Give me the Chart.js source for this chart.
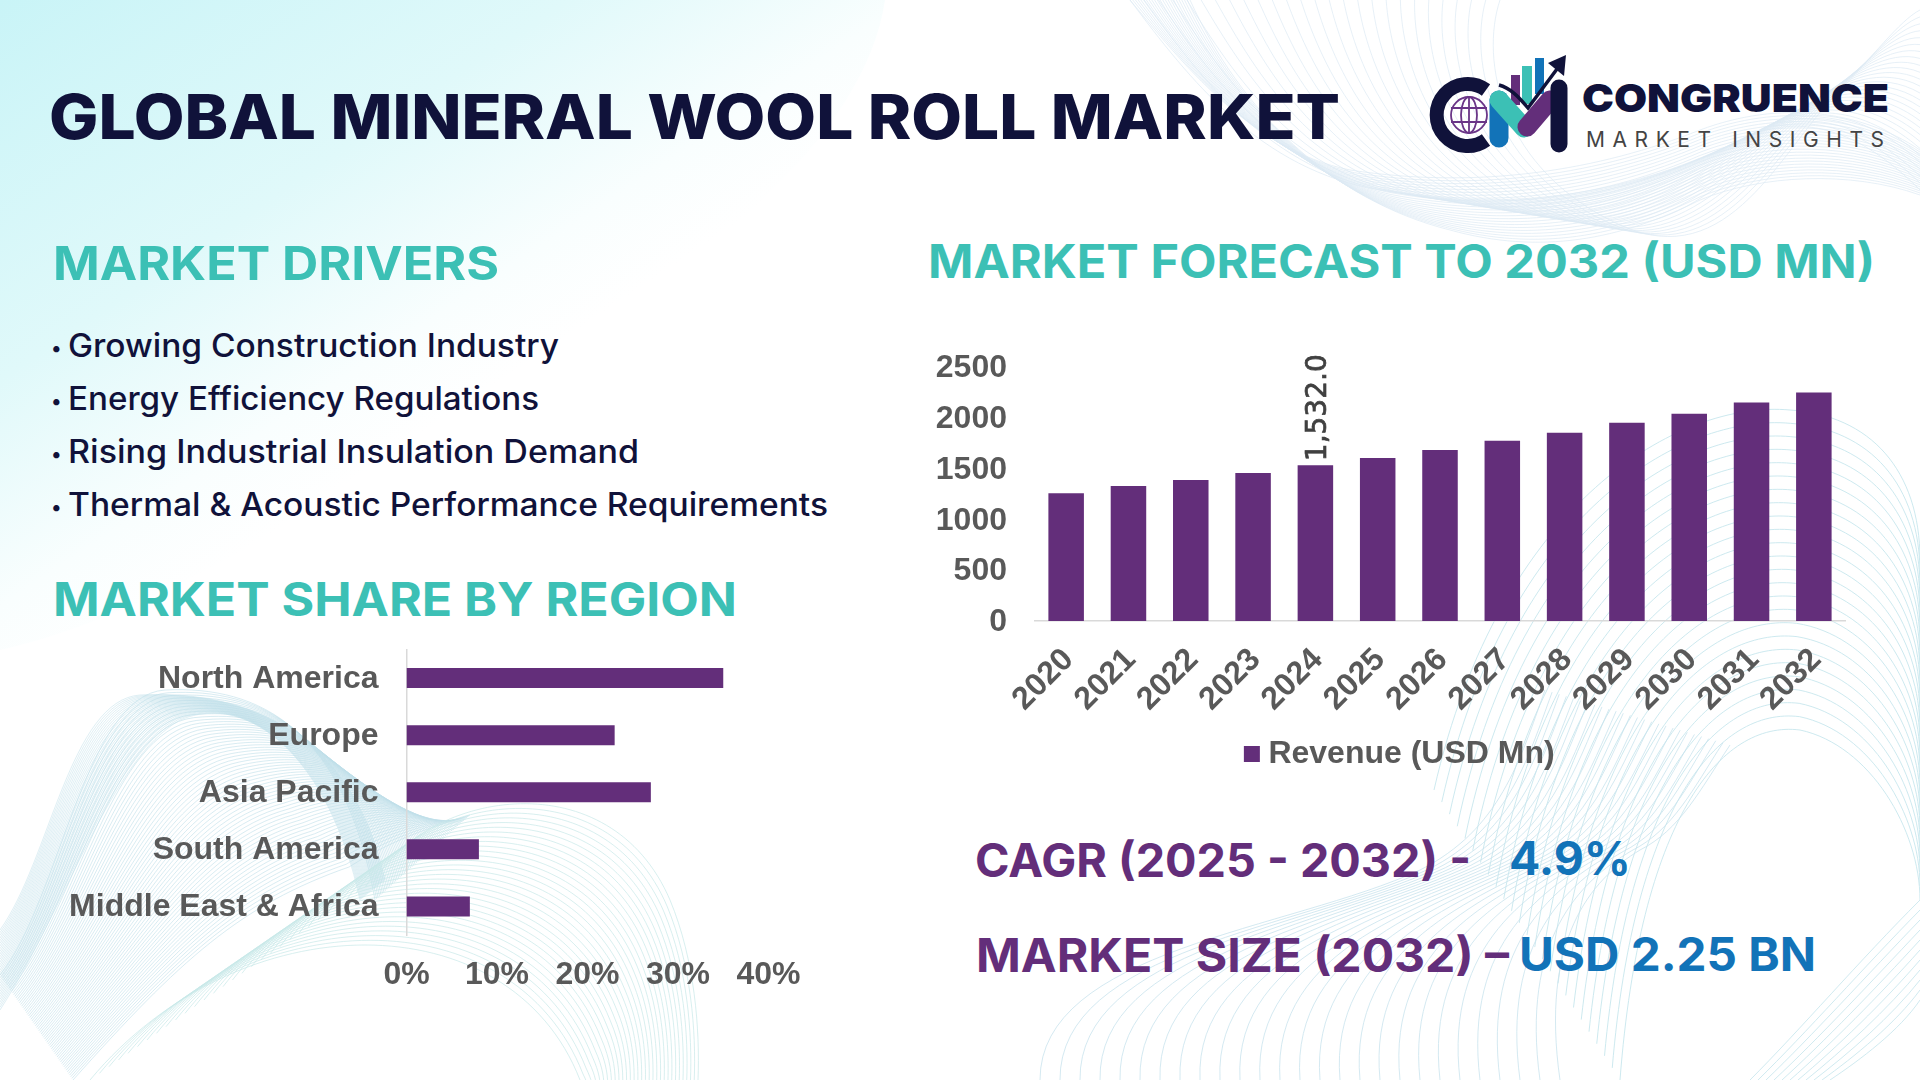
<!DOCTYPE html>
<html>
<head>
<meta charset="utf-8">
<title>Global Mineral Wool Roll Market</title>
<script src="https://cdn.jsdelivr.net/npm/chart.js@4"></script>
<style>
  html, body { margin: 0; padding: 0; background: #fff; }
  #page { position: relative; width: 1920px; height: 1080px; overflow: hidden; }
  #bg { position: absolute; left: 0; top: 0; }
  #bg text { font-family: Inter, sans-serif; }
  canvas { position: absolute; }
  #forecastChart { left: 935px; top: 340px; }
  #regionChart { left: 60px; top: 640px; }
</style>
</head>
<body>
<div id="page">
  <svg id="bg" width="1920" height="1080" viewBox="0 0 1920 1080" xmlns="http://www.w3.org/2000/svg">
    <defs>
      <linearGradient id="corner" gradientUnits="userSpaceOnUse" x1="0" y1="0" x2="500" y2="750">
        <stop offset="0" stop-color="#c9f4f7"/>
        <stop offset="0.35" stop-color="#e0f9fa"/>
        <stop offset="0.56" stop-color="#f9fefe"/>
        <stop offset="0.66" stop-color="#ffffff"/>
      </linearGradient>
    </defs>
    <path d="M0,0 L885,0 C860,170 620,330 330,500 C200,580 90,630 0,650 Z" fill="url(#corner)"/>
    <g id="mesh" fill="none"></g>

    <!-- logo -->
    <g id="logo">
      <path d="M1486,90 A31,31 0 1 0 1486,140" fill="none" stroke="#10123a" stroke-width="14"/>
      <g fill="none" stroke="#6a3587" stroke-width="1.8">
        <circle cx="1469" cy="115" r="18"/>
        <ellipse cx="1469" cy="115" rx="8" ry="18"/>
        <path d="M1451,108 H1487 M1451,122 H1487 M1469,97 V133"/>
      </g>
      <rect x="1511" y="75" width="9" height="30" fill="#632e7a"/>
      <rect x="1522" y="66" width="10" height="38" fill="#3cc0b5"/>
      <rect x="1535" y="58" width="9" height="36" fill="#1273b8"/>
      <path d="M1499,100 V138" stroke="#1273b8" stroke-width="19" stroke-linecap="round"/>
      <path d="M1499,100 L1524,128" stroke="#3cc0b5" stroke-width="19" stroke-linecap="round"/>
      <path d="M1550,100 L1527,127" stroke="#632e7a" stroke-width="19" stroke-linecap="round"/>
      <path d="M1559,88 V144" stroke="#10123a" stroke-width="17" stroke-linecap="round"/>
      <path d="M1499,85 C1510,88 1518,96 1528,108 L1557,69" fill="none" stroke="#10123a" stroke-width="3.5"/>
      <path d="M1566,55 L1548,63 L1564,76 Z" fill="#10123a"/>
    </g>

    <text x="1582" y="112" font-size="39" font-weight="900" fill="#10123a" textLength="307" lengthAdjust="spacingAndGlyphs">CONGRUENCE</text>
    <text x="1586" y="147" font-size="21" font-weight="400" fill="#444444" textLength="298" lengthAdjust="spacing">MARKET INSIGHTS</text>

    <text x="49" y="139" font-size="62" font-weight="800" fill="#10123a" textLength="1291" lengthAdjust="spacingAndGlyphs">GLOBAL MINERAL WOOL ROLL MARKET</text>

    <text x="53" y="280" font-size="46" font-weight="700" fill="#3cc0b5" textLength="446" lengthAdjust="spacingAndGlyphs">MARKET DRIVERS</text>

    <text x="51" y="355" font-size="20" font-weight="500" fill="#10123a">•</text>
    <text x="68" y="357" font-size="32" font-weight="500" fill="#10123a" textLength="491" lengthAdjust="spacingAndGlyphs">Growing Construction Industry</text>
    <text x="51" y="408" font-size="20" font-weight="500" fill="#10123a">•</text>
    <text x="68" y="410" font-size="32" font-weight="500" fill="#10123a" textLength="471" lengthAdjust="spacingAndGlyphs">Energy Efficiency Regulations</text>
    <text x="51" y="461" font-size="20" font-weight="500" fill="#10123a">•</text>
    <text x="68" y="463" font-size="32" font-weight="500" fill="#10123a" textLength="571" lengthAdjust="spacingAndGlyphs">Rising Industrial Insulation Demand</text>
    <text x="51" y="514" font-size="20" font-weight="500" fill="#10123a">•</text>
    <text x="68" y="516" font-size="32" font-weight="500" fill="#10123a" textLength="760" lengthAdjust="spacingAndGlyphs">Thermal &amp; Acoustic Performance Requirements</text>

    <text x="53" y="616" font-size="46" font-weight="700" fill="#3cc0b5" textLength="684" lengthAdjust="spacingAndGlyphs">MARKET SHARE BY REGION</text>
    <text x="928" y="278" font-size="46" font-weight="700" fill="#3cc0b5" textLength="947" lengthAdjust="spacingAndGlyphs">MARKET FORECAST TO 2032 (USD MN)</text>

    <text x="975" y="877" font-size="46" font-weight="700" fill="#632e7a" textLength="496" lengthAdjust="spacingAndGlyphs">CAGR (2025 - 2032) -</text>
    <text x="1509" y="875" font-size="46" font-weight="700" fill="#1273b8" textLength="122" lengthAdjust="spacingAndGlyphs">4.9%</text>
    <text x="976" y="972" font-size="46" font-weight="700" fill="#632e7a" textLength="533" lengthAdjust="spacingAndGlyphs">MARKET SIZE (2032) –</text>
    <text x="1519" y="971" font-size="46" font-weight="700" fill="#1273b8" textLength="297" lengthAdjust="spacingAndGlyphs">USD 2.25 BN</text>
  </svg>

  <canvas id="forecastChart" width="954" height="440"></canvas>
  <canvas id="regionChart" width="760" height="360"></canvas>
</div>

<script>
// chart values
const years = ['2020', '2021', '2022', '2023', '2024', '2025', '2026', '2027', '2028', '2029', '2030', '2031', '2032'];
const revenue = [1257, 1326, 1385, 1454, 1532, 1603, 1682, 1771, 1850, 1949, 2038, 2147, 2246];
const labelledYear = '2024';
const seriesName = 'Revenue (USD Mn)';

const regions = ['North America', 'Europe', 'Asia Pacific', 'South America', 'Middle East & Africa'];
const shares = [35, 23, 27, 8, 7];

const purple = '#632e7a';
const grey = '#595959';
const axisLine = '#d9d9d9';
const tickFont = { family: '"Liberation Sans", Arial, sans-serif', size: 32, weight: 'bold' };

// background wave lines: every family blends one path into another
function blend(a, b, t) {
  return a.map((p, i) => [p[0] + (b[i][0] - p[0]) * t, p[1] + (b[i][1] - p[1]) * t]);
}
function toPath(pts) {
  let d = 'M' + pts[0].join(',');
  for (let i = 1; i < pts.length; i += 3) {
    d += ' C' + pts[i].join(',') + ' ' + pts[i + 1].join(',') + ' ' + pts[i + 2].join(',');
  }
  return d;
}
function family(a, b, n, color, opacity) {
  const svgNS = 'http://www.w3.org/2000/svg';
  const group = document.getElementById('mesh');
  for (let i = 0; i <= n; i++) {
    const line = document.createElementNS(svgNS, 'path');
    line.setAttribute('d', toPath(blend(a, b, i / n)));
    line.setAttribute('stroke', color);
    line.setAttribute('stroke-width', '1');
    line.setAttribute('stroke-opacity', opacity);
    group.appendChild(line);
  }
}

// top right ribbon
family(
  [[1130,0],[1190,80],[1260,170],[1380,190],[1520,215],[1640,190],[1740,140],[1800,110],[1860,130],[1920,190]],
  [[1500,0],[1480,60],[1500,170],[1620,225],[1730,275],[1780,150],[1840,90],[1870,60],[1900,20],[1920,10]],
  26, '#dde9f4', '0.7');
family(
  [[1190,0],[1240,110],[1330,200],[1450,230],[1540,255],[1620,240],[1700,200],[1760,175],[1850,170],[1920,195]],
  [[1130,0],[1180,60],[1250,150],[1350,170],[1480,190],[1600,170],[1700,130],[1780,100],[1860,110],[1920,150]],
  22, '#dde9f4', '0.7');

// bottom left ribbon
family(
  [[0,975],[60,900],[85,695],[165,690],[260,685],[345,730],[375,900]],
  [[73,1080],[180,960],[240,905],[349,867],[400,835],[440,825],[470,815]],
  64, '#bfe0e9', '0.6');
family(
  [[0,1010],[70,900],[110,760],[180,720],[250,690],[330,760],[360,900]],
  [[0,930],[50,860],[70,700],[140,695],[230,690],[350,720],[385,880]],
  30, '#bfe0e9', '0.5');

// bottom middle dome
family(
  [[375,880],[430,790],[610,760],[670,900],[695,960],[700,1030],[698,1080]],
  [[90,1080],[240,900],[510,900],[580,1080],[585,1090],[585,1090],[585,1090]],
  30, '#c8e8e8', '0.7');

// right dome
family(
  [[1434,790],[1500,500],[1680,400],[1790,410],[1870,415],[1920,470],[1920,560]],
  [[1620,1080],[1640,820],[1720,720],[1800,730],[1870,745],[1920,830],[1920,900]],
  24, '#c4e5ec', '0.85');

// bottom right lower sweep
family(
  [[1040,1080],[1040,950],[1290,930],[1420,870],[1500,830],[1520,760],[1545,690]],
  [[1560,1080],[1540,940],[1590,880],[1640,850],[1680,830],[1700,790],[1730,745]],
  26, '#c9e4ee', '0.8');
family(
  [[1750,1080],[1800,1030],[1860,960],[1920,900],[1920,900],[1920,900],[1920,900]],
  [[1830,1080],[1860,1060],[1900,1030],[1920,1000],[1920,1000],[1920,1000],[1920,1000]],
  10, '#c4e5ec', '0.8');

// value written straight up above the bar of one year
const barNote = {
  id: 'barNote',
  afterDatasetsDraw(chart) {
    const i = years.indexOf(labelledYear);
    const bar = chart.getDatasetMeta(0).data[i];
    const note = revenue[i].toLocaleString('en-US', { minimumFractionDigits: 1 });
    const ctx = chart.ctx;
    ctx.save();
    ctx.translate(bar.x + 11, bar.y - 4);
    ctx.rotate(-Math.PI / 2);
    ctx.font = '28px "DejaVu Sans", sans-serif';
    ctx.fillStyle = '#404040';
    ctx.strokeStyle = '#404040';
    ctx.lineWidth = 0.7;
    ctx.textAlign = 'left';
    ctx.textBaseline = 'alphabetic';
    ctx.fillText(note, 0, 0);
    ctx.strokeText(note, 0, 0);
    ctx.restore();
  }
};

// the legend sits a little right of the canvas centre
const legendShift = {
  id: 'legendShift',
  afterLayout(chart) {
    chart.legend.left += 13;
    chart.legend.right += 13;
  }
};

new Chart(document.getElementById('forecastChart'), {
  type: 'bar',
  data: {
    labels: years,
    datasets: [{
      label: seriesName,
      data: revenue,
      backgroundColor: purple,
      barPercentage: 0.57,
      categoryPercentage: 1
    }]
  },
  options: {
    responsive: false,
    animation: false,
    layout: { padding: { top: 26.7, right: 44 } },
    plugins: {
      tooltip: { enabled: false },
      legend: {
        position: 'bottom',
        labels: {
          boxWidth: 1,
          boxHeight: 1,
          padding: 9,
          color: grey,
          font: tickFont,
          // a thick outline makes the square sit closer to its text
          generateLabels: () => [{
            text: seriesName,
            fillStyle: purple,
            strokeStyle: purple,
            lineWidth: 15,
            fontColor: grey,
            datasetIndex: 0
          }]
        }
      }
    },
    scales: {
      x: {
        grid: { display: false },
        border: { color: axisLine, width: 1.5 },
        afterFit(scale) { scale.height = 108; scale.paddingLeft = 0; scale.paddingRight = 0; },
        ticks: { color: grey, font: tickFont, minRotation: 45, maxRotation: 45, autoSkip: false, padding: 12, labelOffset: 2.5 }
      },
      y: {
        min: 0,
        max: 2500,
        grid: { display: false },
        border: { display: false },
        afterFit(scale) { scale.width = 100; scale.paddingTop = 0; scale.paddingBottom = 0; },
        ticks: { color: grey, font: tickFont, stepSize: 500, padding: 20, labelOffset: 1.5, callback: v => String(v) }
      }
    }
  },
  plugins: [barNote, legendShift]
});

new Chart(document.getElementById('regionChart'), {
  type: 'bar',
  data: {
    labels: regions,
    datasets: [{
      data: shares,
      backgroundColor: purple,
      barPercentage: 0.35,
      categoryPercentage: 1
    }]
  },
  options: {
    indexAxis: 'y',
    responsive: false,
    animation: false,
    layout: { padding: { top: 9.5, right: 51.5 } },
    plugins: { legend: { display: false }, tooltip: { enabled: false } },
    scales: {
      x: {
        min: 0,
        max: 40,
        grid: { display: false },
        border: { display: false },
        afterFit(scale) { scale.height = 65; scale.paddingLeft = 0; scale.paddingRight = 0; },
        ticks: { color: grey, font: tickFont, stepSize: 10, padding: 12.5, callback: v => v + '%' }
      },
      y: {
        grid: { display: false },
        border: { color: axisLine, width: 1.5 },
        afterFit(scale) { scale.width = 346.5; scale.paddingTop = 0; scale.paddingBottom = 0; },
        ticks: { color: grey, font: tickFont, padding: 20, labelOffset: 1, autoSkip: false }
      }
    }
  }
});
</script>
</body>
</html>
